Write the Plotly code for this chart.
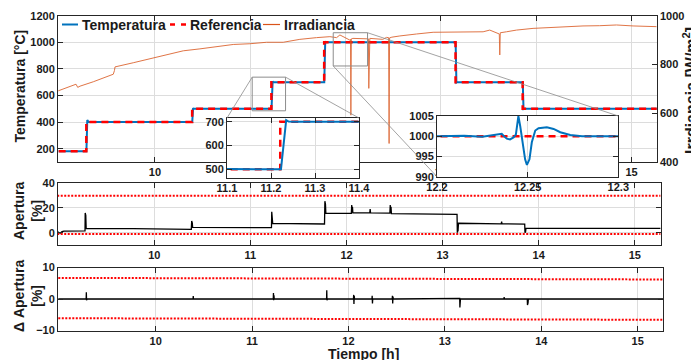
import plotly.graph_objects as go

# ---------------- data ----------------
# Temperature (measured), hours / °C
temp_t = [8.99, 9.281, 9.290, 9.296, 9.305, 10.391, 10.400, 10.405, 11.2227, 11.2345, 11.240, 11.250,
          11.776, 11.786, 11.795, 12.200, 12.215, 12.225, 12.232, 12.2345, 12.2357, 12.2372, 12.2385,
          12.2403, 12.2422, 12.2435, 12.2449, 12.2459, 12.2474, 12.2486, 12.2496, 12.2510, 12.2523,
          12.2542, 12.2560, 12.2606, 12.2643, 12.2680, 12.2735, 12.2800, 12.300, 13.154, 13.162,
          13.170, 13.858, 13.866, 13.875, 15.27]
temp_v = [180, 180, 415, 402, 400, 400, 505, 500, 500, 707, 701, 700,
          700, 1005, 1000, 1000, 1000.1, 999.9, 1000.25, 1000.4, 1000.6, 999.9, 999.4,
          999.2, 999.7, 1000.4, 1005.0, 1002.5, 998.5, 994.3, 992.9, 994.3, 998.5,
          1001.4, 1002.0, 1002.2, 1001.8, 1001.0, 1000.3, 1000.0, 1000.0, 1000, 697,
          700, 700, 498, 500, 500]

# Reference (set point) steps
ref_t = [8.99, 9.28, 10.39, 11.221, 11.775, 13.153, 13.857, 15.27]
ref_v = [180, 400, 500, 700, 1000, 700, 500, 500]

# Irradiance, W/m2
irr_t = [8.986, 9.074, 9.172, 9.190, 9.214, 9.353, 9.563, 9.575, 9.581, 9.772, 9.948, 10.123, 10.297,
         10.472, 10.647, 10.821, 10.996, 11.171, 11.345, 11.420, 11.520, 11.695, 11.835, 11.905,
         11.940, 12.044, 12.051, 12.055, 12.060, 12.076, 12.150, 12.219, 12.239, 12.243, 12.248,
         12.254, 12.390, 12.429, 12.451, 12.456, 12.461, 12.485, 12.569, 12.639, 12.744, 12.918,
         13.093, 13.268, 13.442, 13.512, 13.582, 13.612, 13.617, 13.622, 13.687, 13.792, 13.966,
         14.141, 14.316, 14.490, 14.665, 14.841, 15.015, 15.190, 15.263]
irr_v = [692, 706, 719, 706, 711, 729, 760, 775, 790, 807, 823, 841, 856,
         864, 874, 882, 885, 891, 891, 897, 903, 910, 914, 910,
         921, 900, 903, 592, 905, 907, 905, 903, 905, 702, 904,
         907, 903, 911, 910, 476, 909, 912, 917, 921, 925, 932,
         932, 932, 934, 941, 928, 925, 839, 930, 934, 941, 948,
         952, 955, 958, 959, 962, 958, 955, 955]

# Valve opening (Apertura), %
ap_t = [8.99, 9.005, 9.02, 9.04, 9.06, 9.279, 9.281, 9.284, 9.287, 9.291, 9.30, 9.78,
        10.385, 10.389, 10.392, 10.395, 10.399, 11.219, 11.222, 11.225, 11.228, 11.232,
        11.771, 11.775, 11.778, 11.781, 11.785, 12.050, 12.054, 12.058, 12.062, 12.066,
        12.242, 12.246, 12.250, 12.451, 12.455, 12.459, 12.463, 12.467,
        13.150, 13.153, 13.156, 13.160, 13.165, 13.610, 13.614, 13.618,
        13.854, 13.857, 13.860, 13.863, 13.867, 15.27]
ap_v = [1.0, 0.0, -0.5, 0.8, 1.2, 1.5, 16.0, 4.0, 14.0, 3.5, 3.5, 3.2,
        2.7, 9.4, 4.5, 8.0, 4.3, 4.0, 17.0, 8.0, 15.0, 7.6,
        7.0, 25.5, 16.0, 23.0, 15.7, 15.6, 22.3, 16.2, 21.0, 16.0,
        16.0, 19.2, 16.0, 15.8, 22.3, 15.8, 21.0, 15.5,
        14.9, 0.0, 7.6, 1.0, 7.6, 7.2, 8.9, 7.2,
        7.0, 0.0, 3.5, 0.5, 3.5, 3.5]
ap_lim_t = [8.99, 15.27]
ap_lim_hi = [30, 30]
ap_lim_lo = [-1, -1]

# Change of valve opening (Δ Apertura), %
dap_t = [8.99, 9.279, 9.281, 9.283, 9.286, 9.289, 10.388, 10.390, 10.393,
         11.220, 11.222, 11.224, 11.227, 11.230, 11.773, 11.775, 11.777, 11.780, 11.783,
         12.052, 12.054, 12.057, 12.060, 12.063, 12.244, 12.246, 12.249, 12.252,
         12.454, 12.456, 12.459, 12.462, 12.465, 13.152, 13.154, 13.156, 13.159, 13.162,
         13.613, 13.615, 13.618, 13.855, 13.857, 13.860, 13.863, 13.866, 15.27]
dap_v = [0, 0, 2.1, -0.4, 1.5, 0, 0, 0.9, 0,
         0, 1.9, -0.4, 1.2, 0, 0, 2.8, -0.4, 2.0, 0,
         0, 1.3, -1.6, 1.0, 0, 0, 1.0, -1.4, 0,
         0, 1.0, -1.4, 0.8, 0, 0, 0.2, -2.7, -1.5, 0,
         0, 0.6, 0, 0, -1.9, -0.3, -1.2, 0, 0]
dap_lim_t = [8.99, 15.27]
dap_lim_hi = [6.7, 6.2]
dap_lim_lo = [-6.1, -6.6]

# Tick labels
main_xticks = [10, 11, 12, 13, 14, 15]
main_yticks = [200, 400, 600, 800, 1000, 1200]
irr_ticks = [400, 600, 800, 1000]
ap_ticks = [0, 20, 40]
dap_ticks = [-10, 0, 10]
in1_xticks = [11.1, 11.2, 11.3, 11.4]
in1_yticks = [500, 600, 700]
in2_xticks = [12.2, 12.25, 12.3]
in2_xlabels = ["12.2", "12.25", "12.3"]
in2_yticks = [990, 995, 1000, 1005]

# Legend entries
legend_names = ["Temperatura", "Referencia", "Irradiancia"]

# zoom rectangles on main plot (data coords)
rect1 = dict(x0=11.02, x1=11.37, y0=485, y1=738)
rect2 = dict(x0=11.87, x1=12.23, y0=822, y1=1072)

# ---------------- style ----------------
# the page body has an 8px margin: the figure is laid out in window pixels minus that offset
OFF = 8
W, H = 699 - OFF, 360 - OFF
FONT = "Liberation Sans"
BLUE = "#0072BD"
RED = "#FF0000"
ORANGE = "#D95319"
GRID = "#DDDDDD"
AX = "#262626"
TXT = "#1a1a1a"


def px(p):
    return (p - OFF) / W


def py(p):
    return 1 - (p - OFF) / H


def axstyle(**kw):
    d = dict(showline=True, linecolor=AX, linewidth=1, ticks="inside", ticklen=5,
             tickcolor=AX, showgrid=True, gridcolor=GRID, gridwidth=1, zeroline=False,
             automargin=False,
             tickfont=dict(family=FONT, size=11, color=TXT, weight="bold"))
    d.update(kw)
    return d


REF_LINE = dict(color=RED, width=2.5, dash="7px,5px", shape="hv")
fig = go.Figure()

# main plot
fig.add_trace(go.Scatter(x=temp_t, y=temp_v, name=legend_names[0], mode="lines",
                         line=dict(color=BLUE, width=2), xaxis="x", yaxis="y"))
fig.add_trace(go.Scatter(x=ref_t, y=ref_v, name=legend_names[1], mode="lines",
                         line=REF_LINE, xaxis="x", yaxis="y"))
fig.add_trace(go.Scatter(x=irr_t, y=irr_v, name=legend_names[2], mode="lines",
                         line=dict(color=ORANGE, width=1), opacity=0.8, xaxis="x", yaxis="y2"))

# Apertura
fig.add_trace(go.Scatter(x=ap_t, y=ap_v, mode="lines", line=dict(color="black", width=1.3),
                         xaxis="x2", yaxis="y3"))
for lim in (ap_lim_hi, ap_lim_lo):
    fig.add_trace(go.Scatter(x=ap_lim_t, y=lim, mode="lines",
                             line=dict(color=RED, width=2, dash="2px,1.5px"),
                             xaxis="x2", yaxis="y3"))

# Δ Apertura
fig.add_trace(go.Scatter(x=dap_t, y=dap_v, mode="lines", line=dict(color="black", width=1.3),
                         xaxis="x3", yaxis="y4"))
for lim in (dap_lim_hi, dap_lim_lo):
    fig.add_trace(go.Scatter(x=dap_lim_t, y=lim, mode="lines",
                             line=dict(color=RED, width=2, dash="2px,1.5px"),
                             xaxis="x3", yaxis="y4"))

# insets (reference below, measured on top)
for xa, ya in (("x4", "y5"), ("x5", "y6")):
    fig.add_trace(go.Scatter(x=ref_t, y=ref_v, mode="lines", line=REF_LINE, xaxis=xa, yaxis=ya))
    fig.add_trace(go.Scatter(x=temp_t, y=temp_v, mode="lines",
                             line=dict(color=BLUE, width=2), xaxis=xa, yaxis=ya))

# domains
main_xd = [px(58), px(656.7)]
main_yd = [py(162), py(15.7)]
in1_xd = [px(227), px(359)]
in1_yd = [py(178), py(118)]
in2_xd = [px(437), px(618.3)]
in2_yd = [py(176.7), py(116)]
main_xr = [8.983, 15.263]
main_yr = [100, 1200]

fig.update_layout(
    width=W, height=H, margin=dict(l=0, r=0, t=0, b=0, autoexpand=False),
    paper_bgcolor="white", plot_bgcolor="white", showlegend=False,
    font=dict(family=FONT, color=TXT),
    xaxis=axstyle(domain=main_xd, range=main_xr, anchor="y", tickvals=main_xticks, mirror="ticks"),
    yaxis=axstyle(domain=main_yd, range=main_yr, anchor="x", tickvals=main_yticks),
    yaxis2=axstyle(overlaying="y", side="right", anchor="x", range=[400, 1000], tickvals=irr_ticks,
                   showgrid=False),
    xaxis2=axstyle(domain=[px(58), px(660.5)], range=[8.998, 15.267], anchor="y3",
                   tickvals=main_xticks, mirror="ticks"),
    yaxis3=axstyle(domain=[py(245), py(183.3)], range=[-10, 40], anchor="x2",
                   tickvals=ap_ticks, mirror="ticks"),
    xaxis3=axstyle(domain=[px(58), px(663.3)], range=[8.987, 15.266], anchor="y4",
                   tickvals=main_xticks, mirror="ticks"),
    yaxis4=axstyle(domain=[py(330.5), py(267.5)], range=[-10, 10], anchor="x3",
                   tickvals=dap_ticks, mirror="ticks"),
    xaxis4=axstyle(domain=in1_xd, range=[11.1, 11.4], anchor="y5", tickvals=in1_xticks,
                   mirror="ticks"),
    yaxis5=axstyle(domain=in1_yd, range=[463, 716], anchor="x4", tickvals=in1_yticks,
                   mirror="ticks"),
    xaxis5=axstyle(domain=in2_xd, range=[12.2, 12.3], anchor="y6", tickvals=in2_xticks,
                   ticktext=in2_xlabels, mirror="ticks"),
    yaxis6=axstyle(domain=in2_yd, range=[990, 1005], anchor="x5", tickvals=in2_yticks,
                   mirror="ticks"),
)


def main_to_paper(xv, yv):
    fx = main_xd[0] + (xv - main_xr[0]) / (main_xr[1] - main_xr[0]) * (main_xd[1] - main_xd[0])
    fy = main_yd[0] + (yv - main_yr[0]) / (main_yr[1] - main_yr[0]) * (main_yd[1] - main_yd[0])
    return fx, fy


ZC = "#8c8c8c"
shapes = []
for r in (rect1, rect2):
    shapes.append(dict(type="rect", xref="x", yref="y", line=dict(color=ZC, width=1), **r))
connectors = [
    (main_to_paper(rect1["x0"], rect1["y1"]), (in1_xd[0], in1_yd[1])),
    (main_to_paper(rect1["x1"], rect1["y1"]), (in1_xd[1], in1_yd[1])),
    (main_to_paper(rect2["x1"], rect2["y1"]), (in2_xd[1], in2_yd[1])),
    (main_to_paper(rect2["x0"], rect2["y0"]), (in2_xd[0], in2_yd[0])),
]
for (a, b) in connectors:
    shapes.append(dict(type="line", xref="paper", yref="paper", x0=a[0], y0=a[1], x1=b[0], y1=b[1],
                       line=dict(color=ZC, width=0.8)))

# compact legend (line sample + label) inside the top plot
LEG_Y = py(24.5)
leg_samples = [
    (62, 78, dict(color=BLUE, width=2)),
    (170, 187, dict(color=RED, width=2.5, dash="5px,6px")),
    (263, 280, dict(color=ORANGE, width=1.2)),
]
leg_text_x = [80, 187.5, 282]
for (a, b, ln) in leg_samples:
    shapes.append(dict(type="line", xref="paper", yref="paper", x0=px(a), x1=px(b),
                       y0=LEG_Y, y1=LEG_Y, line=ln))
fig.update_layout(shapes=shapes)

TF = dict(family=FONT, size=14, color=TXT, weight="bold")
ann = [
    dict(text="Temperatura [°C]", x=px(19), y=py(86.5), textangle=-90),
    dict(text="Irrdiancia [W/m<sup>2</sup>]", x=px(690), y=py(91), textangle=-90,
         font=dict(family=FONT, size=16, color=TXT, weight="bold")),
    dict(text="Apertura<br>[%]", x=px(28), y=py(211), textangle=-90),
    dict(text="Δ Apertura<br>[%]", x=px(28), y=py(296), textangle=-90),
    dict(text="Tiempo [h]", x=px(363.5), y=py(353.5)),
]
for name, tx in zip(legend_names, leg_text_x):
    ann.append(dict(text=name, x=px(tx), y=py(25), xanchor="left"))
for a in ann:
    a.setdefault("font", TF)
    a.setdefault("xanchor", "center")
    fig.add_annotation(xref="paper", yref="paper", showarrow=False, yanchor="middle", **a)

fig.write_html("out.html")
